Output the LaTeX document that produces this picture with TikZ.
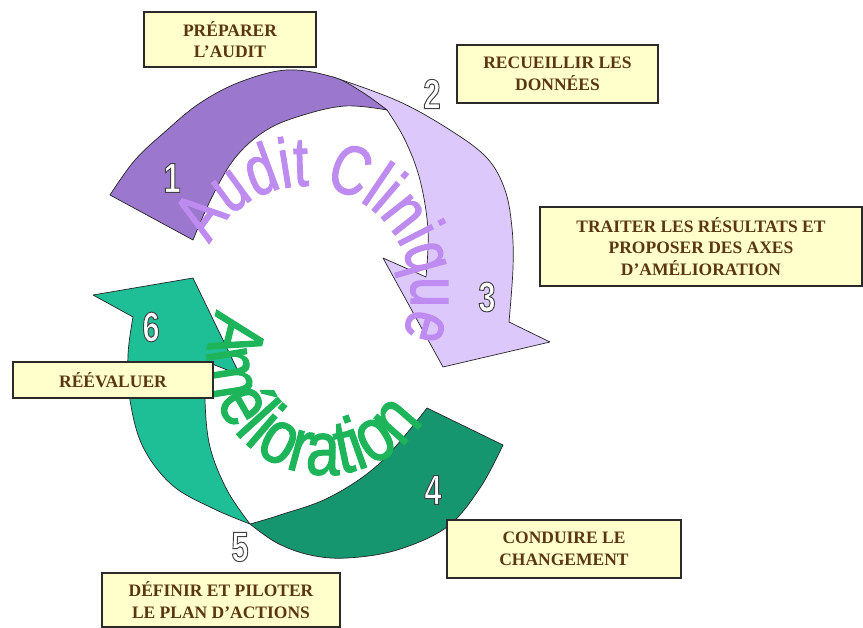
\documentclass[tikz,border=0pt]{standalone}
\usepackage{fontspec}
\usetikzlibrary{decorations.text}
\newfontfamily\boxfont{Liberation Serif}
\newfontfamily\wafontA[FakeStretch=0.76,FakeBold=1.6]{Liberation Sans}
\newfontfamily\wafontB[FakeStretch=0.8,FakeBold=1.6]{Liberation Sans}
\newfontfamily\digfont[FakeStretch=0.74,FakeBold=2.2,UprightFont=*,UprightFeatures={FakeStretch=0.74,FakeBold=2.2}]{Liberation Sans Bold}
\definecolor{pdark}{HTML}{9B78CD}
\definecolor{plight}{HTML}{DCC8FA}
\definecolor{glight}{HTML}{1EBE96}
\definecolor{gdark}{HTML}{16966E}
\definecolor{auditc}{HTML}{BE8CF0}
\definecolor{amelc}{HTML}{1EB45A}
\definecolor{boxfill}{HTML}{FFFFCC}
\definecolor{boxtext}{HTML}{5A370F}
\definecolor{boxline}{HTML}{2A2A2A}
\newcommand\outdig[3]{%
  \node[digitsty] (#1) at (#2) {\color{white}\special{pdf:literal 0.25 G}#3};}
\begin{document}
\begin{tikzpicture}[x=1pt,y=-1pt,
  edge/.style={draw=black!85, line width=0.7pt, line join=round},
  tbox/.style={draw=boxline, line width=1.2pt, fill=boxfill, text=boxtext,
    font=\boxfont\bfseries\fontsize{17.5}{21.5}\selectfont, align=center, inner sep=0pt},
  digitsty/.style={font=\digfont\fontsize{42}{42}\selectfont, inner sep=0pt}]
\useasboundingbox (0,0) rectangle (863,628);
\fill[white] (0,0) rectangle (863,628);

% light purple arrow part (shaft + head)
\path[edge, fill=plight] (333,77)
  -- plot[smooth, tension=0.6] coordinates {(333,77) (398,101) (450,130) (487,158) (505,190) (512,228) (513,268) (509,322)}
  -- (550,342) -- (443,367) -- (383,258) -- (426,277)
  -- plot[smooth, tension=0.6] coordinates {(426,277) (428,230) (420,180) (405,140) (387,110)}
  -- cycle;
% dark purple part (tail)
\path[edge, fill=pdark] (110,195)
  -- plot[smooth, tension=0.6] coordinates {(110,195) (135,160) (167,130) (200,103) (240,82) (287,70) (333,77) (362,92) (387,110)}
  -- plot[smooth, tension=0.6] coordinates {(387,110) (345,106) (300,116) (265,131) (235,158) (212,197) (193,240)}
  -- cycle;
% light green part (head + shaft)
\path[edge, fill=glight] (133,317) -- (93,295) -- (193,278) -- (240,375) -- (207,362)
  -- plot[smooth, tension=0.6] coordinates {(207,362) (205,400) (210,447) (227,490) (250,524)}
  -- plot[smooth, tension=0.6] coordinates {(250,524) (212,508) (172,485) (143,447) (130,400) (128,355) (133,317)}
  -- cycle;
% dark green part (tail)
\path[edge, fill=gdark] (250,524)
  -- plot[smooth, tension=0.6] coordinates {(250,524) (280,515) (330,497) (380,463) (427,408)}
  -- (503,445)
  -- plot[smooth, tension=0.6] coordinates {(503,445) (480,488) (447,527) (397,550) (347,558) (310,555) (277,543) (250,524)}
  -- cycle;

% arched texts
\path[decorate, decoration={text along path, text align={fit to path},
  text={|\wafontA\fontsize{70}{70}\selectfont\color{auditc}|Audit Clinique}}]
  (305,292) ++(206.6:106) arc[start angle=206.6, end angle=380.3, radius=106];
\path[decorate, decoration={text along path, text align={fit to path},
  text={|\wafontB\fontsize{76}{76}\selectfont\color{amelc}|Amélioration}}]
  (325,358) ++(204:116.7) arc[start angle=204, end angle=33, radius=116.7];

% step boxes
\node[tbox, minimum width=172, minimum height=55] (b1) at (230,39.5) {PRÉPARER\\L’AUDIT};
\node[tbox, minimum width=201, minimum height=58] (b2) at (557.5,74) {RECUEILLIR LES\\DONNÉES};
\node[tbox, minimum width=322, minimum height=79] (b3) at (701,246.5) {TRAITER LES RÉSULTATS ET\\PROPOSER DES AXES\\D’AMÉLIORATION};
\node[tbox, minimum width=200, minimum height=36] (b6) at (113,380) {RÉÉVALUER};
\node[tbox, minimum width=234, minimum height=58] (b4) at (564,549) {CONDUIRE LE\\CHANGEMENT};
\node[tbox, minimum width=238, minimum height=54] (b5) at (221,600) {DÉFINIR ET PILOTER\\LE PLAN D’ACTIONS};

% step numbers
\outdig{n1}{172,178}{1}
\outdig{n2}{432,94}{2}
\outdig{n3}{487,297}{3}
\outdig{n4}{433,490}{4}
\outdig{n5}{240,547}{5}
\outdig{n6}{151,327}{6}
\end{tikzpicture}
\end{document}
